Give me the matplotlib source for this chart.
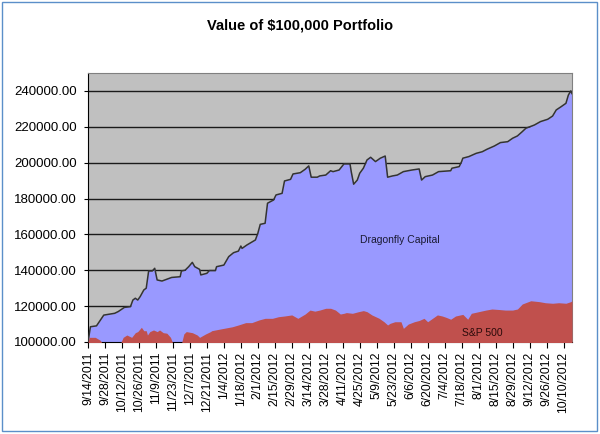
import datetime as dt
import numpy as np
import pandas as pd
import matplotlib
matplotlib.use('Agg')
import matplotlib.pyplot as plt
from matplotlib.patches import Rectangle

plt.rcParams['font.family'] = ['Liberation Sans', 'DejaVu Sans']

# Dragonfly Capital, value
dfc_dates = ['2011-09-14', '2011-09-16', '2011-09-21', '2011-09-27', '2011-10-06', '2011-10-09',
             '2011-10-14', '2011-10-19', '2011-10-21', '2011-10-23', '2011-10-25', '2011-10-27',
             '2011-10-30', '2011-11-01', '2011-11-03', '2011-11-06', '2011-11-08', '2011-11-10',
             '2011-11-14', '2011-11-22', '2011-11-29', '2011-11-30', '2011-12-03', '2011-12-06',
             '2011-12-09', '2011-12-11', '2011-12-15', '2011-12-16', '2011-12-21', '2011-12-23',
             '2011-12-28', '2011-12-29', '2012-01-04', '2012-01-08', '2012-01-12', '2012-01-16',
             '2012-01-18', '2012-01-19', '2012-01-23', '2012-01-30', '2012-02-01', '2012-02-03',
             '2012-02-07', '2012-02-09', '2012-02-14', '2012-02-16', '2012-02-21', '2012-02-23',
             '2012-02-28', '2012-03-01', '2012-03-07', '2012-03-11', '2012-03-14', '2012-03-16',
             '2012-03-21', '2012-03-23', '2012-03-28', '2012-04-01', '2012-04-03', '2012-04-08',
             '2012-04-12', '2012-04-17', '2012-04-18', '2012-04-20', '2012-04-23', '2012-04-25',
             '2012-04-28', '2012-05-01', '2012-05-04', '2012-05-08', '2012-05-12', '2012-05-16',
             '2012-05-18', '2012-05-22', '2012-05-26', '2012-05-31', '2012-06-07', '2012-06-13',
             '2012-06-15', '2012-06-18', '2012-06-24', '2012-06-29', '2012-07-09', '2012-07-10',
             '2012-07-16', '2012-07-18', '2012-07-19', '2012-07-24', '2012-07-30', '2012-08-04',
             '2012-08-08', '2012-08-14', '2012-08-19', '2012-08-25', '2012-08-29', '2012-09-02',
             '2012-09-06', '2012-09-09', '2012-09-16', '2012-09-21', '2012-09-27', '2012-10-01',
             '2012-10-04', '2012-10-08', '2012-10-12', '2012-10-14', '2012-10-16', '2012-10-17']
dfc_values = [100000, 108500, 109000, 115000, 116000, 117000,
              119300, 119700, 123400, 124400, 123400, 125300,
              129000, 130000, 139600, 139600, 141100, 134600,
              134000, 136000, 136400, 139600, 140000, 142000,
              144400, 142000, 140500, 137400, 138300, 139800,
              139800, 142000, 142900, 147600, 149800, 150700,
              153500, 152200, 154100, 156900, 160600, 165600,
              166200, 177400, 179200, 182000, 182900, 189800,
              190700, 193700, 194400, 196300, 198200, 191900,
              191900, 192600, 193100, 195500, 195000, 195900,
              199300, 199300, 195000, 188000, 190300, 194100,
              196900, 201500, 203000, 200600, 202500, 203700,
              191900, 192600, 193100, 195000, 195900, 196500,
              190300, 192200, 193100, 195000, 195500, 196900,
              197800, 200600, 202500, 203400, 205200, 206100,
              207500, 209300, 211200, 211700, 213600, 214900,
              217300, 219200, 221000, 222900, 224200, 226000,
              229400, 231200, 233100, 237700, 240000, 238500]

# S&P 500, same $100,000 start
spx_dates = ['2011-09-14', '2011-09-15', '2011-09-20', '2011-09-24', '2011-09-26', '2011-10-11',
             '2011-10-13', '2011-10-16', '2011-10-20', '2011-10-23', '2011-10-25', '2011-10-28',
             '2011-10-30', '2011-11-01', '2011-11-02', '2011-11-04', '2011-11-07', '2011-11-10',
             '2011-11-12', '2011-11-15', '2011-11-18', '2011-11-21', '2011-11-23', '2011-11-30',
             '2011-12-02', '2011-12-04', '2011-12-09', '2011-12-13', '2011-12-15', '2011-12-20',
             '2011-12-24', '2011-12-25', '2011-12-31', '2012-01-11', '2012-01-16', '2012-01-22',
             '2012-01-27', '2012-02-02', '2012-02-07', '2012-02-13', '2012-02-18', '2012-02-23',
             '2012-02-29', '2012-03-05', '2012-03-11', '2012-03-15', '2012-03-19', '2012-03-23',
             '2012-03-28', '2012-04-01', '2012-04-05', '2012-04-09', '2012-04-12', '2012-04-14',
             '2012-04-19', '2012-04-24', '2012-04-28', '2012-05-01', '2012-05-05', '2012-05-11',
             '2012-05-15', '2012-05-18', '2012-05-20', '2012-05-24', '2012-05-29', '2012-05-31',
             '2012-06-04', '2012-06-09', '2012-06-13', '2012-06-17', '2012-06-20', '2012-06-24',
             '2012-06-28', '2012-07-02', '2012-07-05', '2012-07-09', '2012-07-13', '2012-07-19',
             '2012-07-23', '2012-07-26', '2012-08-01', '2012-08-07', '2012-08-12', '2012-08-18',
             '2012-08-23', '2012-08-29', '2012-09-02', '2012-09-06', '2012-09-13', '2012-09-20',
             '2012-09-25', '2012-10-01', '2012-10-06', '2012-10-12', '2012-10-16', '2012-10-17']
spx_values = [100000, 102600, 102600, 101000, 99000, 99500,
              102600, 103900, 102600, 105200, 105800, 108200,
              106300, 106300, 103900, 105800, 106700, 105800,
              106700, 105200, 104900, 102600, 99000, 99000,
              104500, 105800, 105200, 103900, 102600, 104500,
              105800, 106300, 107100, 108500, 109500, 110800,
              110800, 112300, 113200, 113200, 114100, 114500,
              115100, 113200, 115600, 117800, 117200, 117800,
              118800, 118800, 117800, 115600, 116000, 116400,
              116000, 116900, 117500, 116900, 115100, 113200,
              111300, 109500, 110400, 111300, 111300, 107600,
              110000, 111300, 112000, 113200, 111300, 113200,
              115100, 114500, 113800, 112700, 114500, 115400,
              112700, 116000, 116900, 117800, 118400, 118100,
              117800, 117800, 118400, 121200, 123000, 122500,
              121900, 121600, 121900, 121600, 122500, 123000]

dfc_x = pd.to_datetime(dfc_dates)
spx_x = pd.to_datetime(spx_dates)

# axis dates every two weeks, as excel did
tick_dates = pd.date_range('2011-09-14', '2012-10-10', freq='14D')
tick_labels = ['%d/%d/%d' % (d.month, d.day, d.year) for d in tick_dates]

fig = plt.figure(figsize=(6, 4.34), dpi=100)
ax = fig.add_axes([88/600, 92/434, 484/600, 269/434])
ax.set_facecolor('#C0C0C0')

ax.fill_between(dfc_x, 0, dfc_values, color='#9999FF', lw=0, zorder=2)
ax.plot(dfc_x, dfc_values, color='#333333', lw=1.1, zorder=3)
ax.fill_between(spx_x, 0, spx_values, color='#C0504D', lw=0, zorder=4)

ax.set_ylim(100000, 250000)
ax.set_xlim(pd.Timestamp('2011-09-14'), pd.Timestamp('2012-10-17'))
ax.set_yticks(np.arange(100000, 250001, 20000))
ax.yaxis.set_major_formatter(matplotlib.ticker.FormatStrFormatter('%.2f'))
ax.yaxis.grid(True, color='#1a1a1a', lw=1)
ax.set_axisbelow(True)
ax.set_xticks(tick_dates)
ax.set_xticklabels(tick_labels, rotation=90)
ax.tick_params(axis='y', labelsize=9.5, length=3, direction='out', pad=5)
ax.tick_params(axis='x', labelsize=8.8, length=4, direction='out', pad=3)

for s in ['top', 'right']:
    ax.spines[s].set_color('#808080')
for s in ['left', 'bottom']:
    ax.spines[s].set_color('black')

ax.text(pd.Timestamp('2012-05-28'), 157000, 'Dragonfly Capital', fontsize=7.5,
        color='#1a1a33', ha='center', va='center', zorder=5)
ax.text(pd.Timestamp('2012-08-04'), 104800, 'S&P 500', fontsize=7.5,
        color='#2a0a0a', ha='center', va='center', zorder=5)

fig.text(0.5, 1 - 25/434, r'Value of \$100,000 Portfolio', fontsize=10.5,
         fontweight='bold', ha='center', va='center')

fig.patches.append(Rectangle((2/600, 3/434), 595/600, 429/434, transform=fig.transFigure,
                             fill=False, edgecolor='#5B8FC9', lw=1))

fig.savefig('out.png', dpi=100)
